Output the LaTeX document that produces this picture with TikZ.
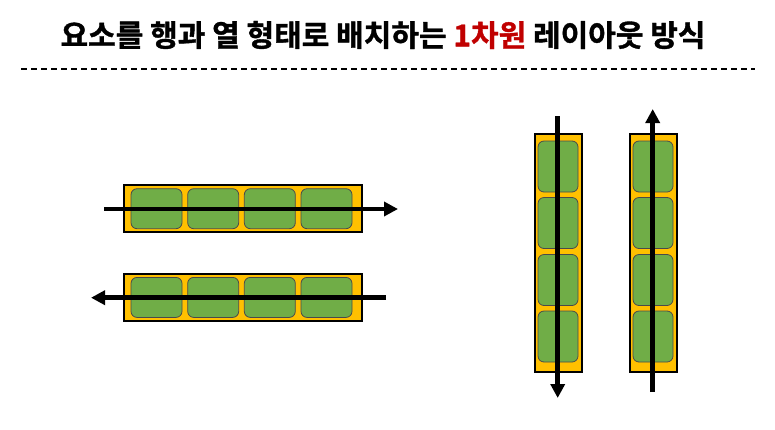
\documentclass[tikz,border=0pt]{standalone}
\usepackage{fontspec}
\newfontfamily\krfont[FakeBold=1.2]{Noto Sans CJK KR Bold}
\usetikzlibrary{arrows.meta}
\definecolor{contfill}{HTML}{FFC000}
\definecolor{cellfill}{HTML}{70AD47}
\definecolor{cellline}{HTML}{4A4A4A}
\definecolor{titlered}{HTML}{C00000}
\tikzset{
  container/.style={draw=black, line width=2pt, fill=contfill, inner sep=0pt},
  hcell/.style={draw=cellline, line width=0.8pt, fill=cellfill, rounded corners=6pt, minimum width=51pt, minimum height=40pt, inner sep=0pt},
  vcell/.style={draw=cellline, line width=0.8pt, fill=cellfill, rounded corners=6pt, minimum width=40pt, minimum height=51pt, inner sep=0pt},
  flow/.style={line width=4.8pt, -{Triangle[length=14pt,width=14pt]}},
}
\begin{document}
\begin{tikzpicture}[x=1pt,y=-1pt]
\useasboundingbox (0,0) rectangle (775,429);
% title
\node[font=\krfont\fontsize{30}{33}\selectfont, anchor=center, inner sep=0pt] (title) at (383,35)
  {요소를 행과 열 형태로 배치하는 \textcolor{titlered}{1차원} 레이아웃 방식};
\coordinate (dl) at (21,69);
\coordinate (dr) at (755,69);
\draw[line width=1.6pt, dash pattern=on 6pt off 4pt] (dl) -- (dr);

% horizontal top
\node[container, minimum width=238pt, minimum height=47pt] (ht) at (243,208.5) {};
\foreach \i/\cx in {1/156.5,2/213.2,3/269.8,4/326.5}
  \node[hcell] (ht\i) at (\cx,208.7) {};
\coordinate (hts) at (104,209);
\coordinate (hte) at (398,209);
\draw[flow] (hts) -- (hte);

% horizontal bottom
\node[container, minimum width=238pt, minimum height=47pt] (hb) at (243,297.8) {};
\foreach \i/\cx in {1/156.5,2/213.2,3/269.8,4/326.5}
  \node[hcell] (hb\i) at (\cx,297.4) {};
\coordinate (hbs) at (386,297.7);
\coordinate (hbe) at (91,297.7);
\draw[flow] (hbs) -- (hbe);

% vertical left
\node[container, minimum width=47pt, minimum height=238pt] (vl) at (558,253) {};
\foreach \i/\cy in {1/166.5,2/223,3/280,4/336.5}
  \node[vcell] (vl\i) at (558,\cy) {};
\coordinate (vls) at (557.7,116);
\coordinate (vle) at (557.7,398);
\draw[flow] (vls) -- (vle);

% vertical right
\node[container, minimum width=47pt, minimum height=238pt] (vr) at (653,253) {};
\foreach \i/\cy in {1/166.5,2/223,3/280,4/336.5}
  \node[vcell] (vr\i) at (653,\cy) {};
\coordinate (vrs) at (652.7,392);
\coordinate (vre) at (652.7,109);
\draw[flow] (vrs) -- (vre);
\end{tikzpicture}
\end{document}
